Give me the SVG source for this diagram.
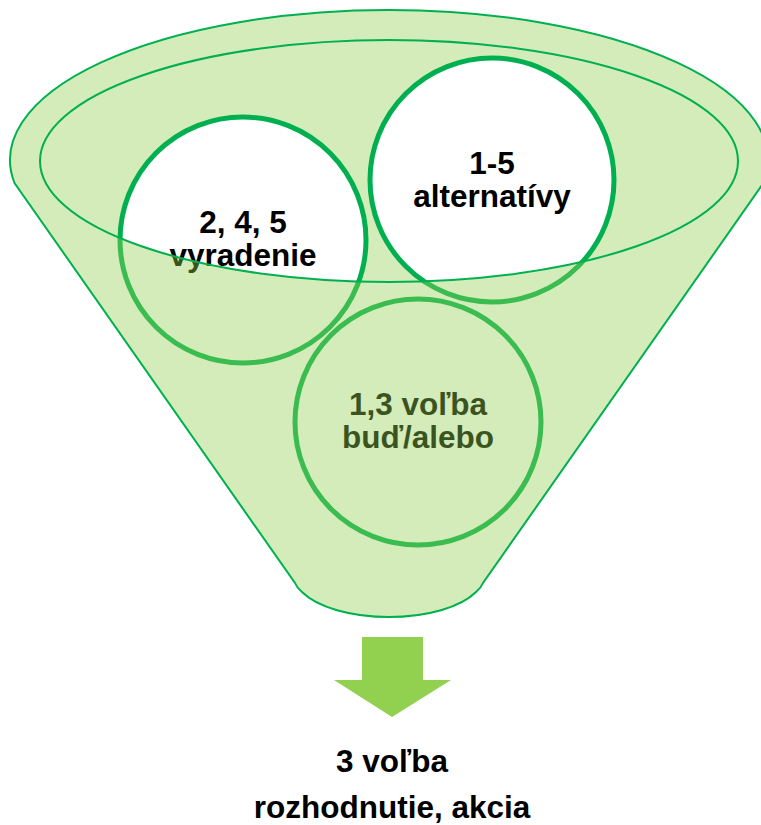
<svg xmlns="http://www.w3.org/2000/svg" width="761" height="825" viewBox="0 0 761 825">
  <style>
    .node-circle { fill: #ffffff; stroke: #00B050; stroke-width: 5; }
    .label { font-family: "Liberation Sans", Arial, sans-serif; font-weight: bold; font-size: 31.5px; fill: #000000; text-anchor: middle; }
    .tint { fill: #92D050; fill-opacity: 0.4; }
    .rim { fill: none; stroke: #00B050; stroke-width: 2; }
  </style>

  <!-- funnel mouth: the opening seen from above -->
  <g id="funnel-mouth">
    <ellipse class="tint" cx="389" cy="161" rx="349" ry="121"/>
  </g>

  <!-- items inside the funnel -->
  <g id="node-discard">
    <circle class="node-circle" cx="243" cy="240" r="123"/>
    <text class="label" x="243" y="233">2, 4, 5</text>
    <text class="label" x="243" y="266">vyradenie</text>
  </g>
  <g id="node-alternatives">
    <circle class="node-circle" cx="492" cy="180" r="122"/>
    <text class="label" x="492" y="174">1-5</text>
    <text class="label" x="492" y="207">alternatívy</text>
  </g>
  <g id="node-choice">
    <circle class="node-circle" cx="418" cy="422" r="123"/>
    <text class="label" x="418" y="415">1,3 voľba</text>
    <text class="label" x="418" y="448">buď/alebo</text>
  </g>

  <!-- funnel body: translucent front, rim and mouth outline -->
  <g id="funnel">
    <path class="tint" fill-rule="evenodd"
          d="M 14.5 183 A 379 150 0 1 1 763.5 183 L 483 583 Q 481 588 476 592 A 95 41.8 0 0 1 302 592 Q 297 588 295 583 Z
             M 40 161 A 349 121 0 1 0 738 161 A 349 121 0 1 0 40 161 Z"/>
    <path class="rim"
          d="M 14.5 183 A 379 150 0 1 1 763.5 183 L 483 583 Q 481 588 476 592 A 95 41.8 0 0 1 302 592 Q 297 588 295 583 Z"/>
    <ellipse class="rim" cx="389" cy="161" rx="349" ry="121"/>
  </g>

  <!-- output arrow -->
  <g id="connectors">
    <polygon fill="#92D050" points="362,637 423,637 423,680 451,680 392,717 334,680 362,680"/>
  </g>

  <g id="node-result">
    <text class="label" x="392" y="772">3 voľba</text>
    <text class="label" x="392" y="818">rozhodnutie, akcia</text>
  </g>
</svg>
